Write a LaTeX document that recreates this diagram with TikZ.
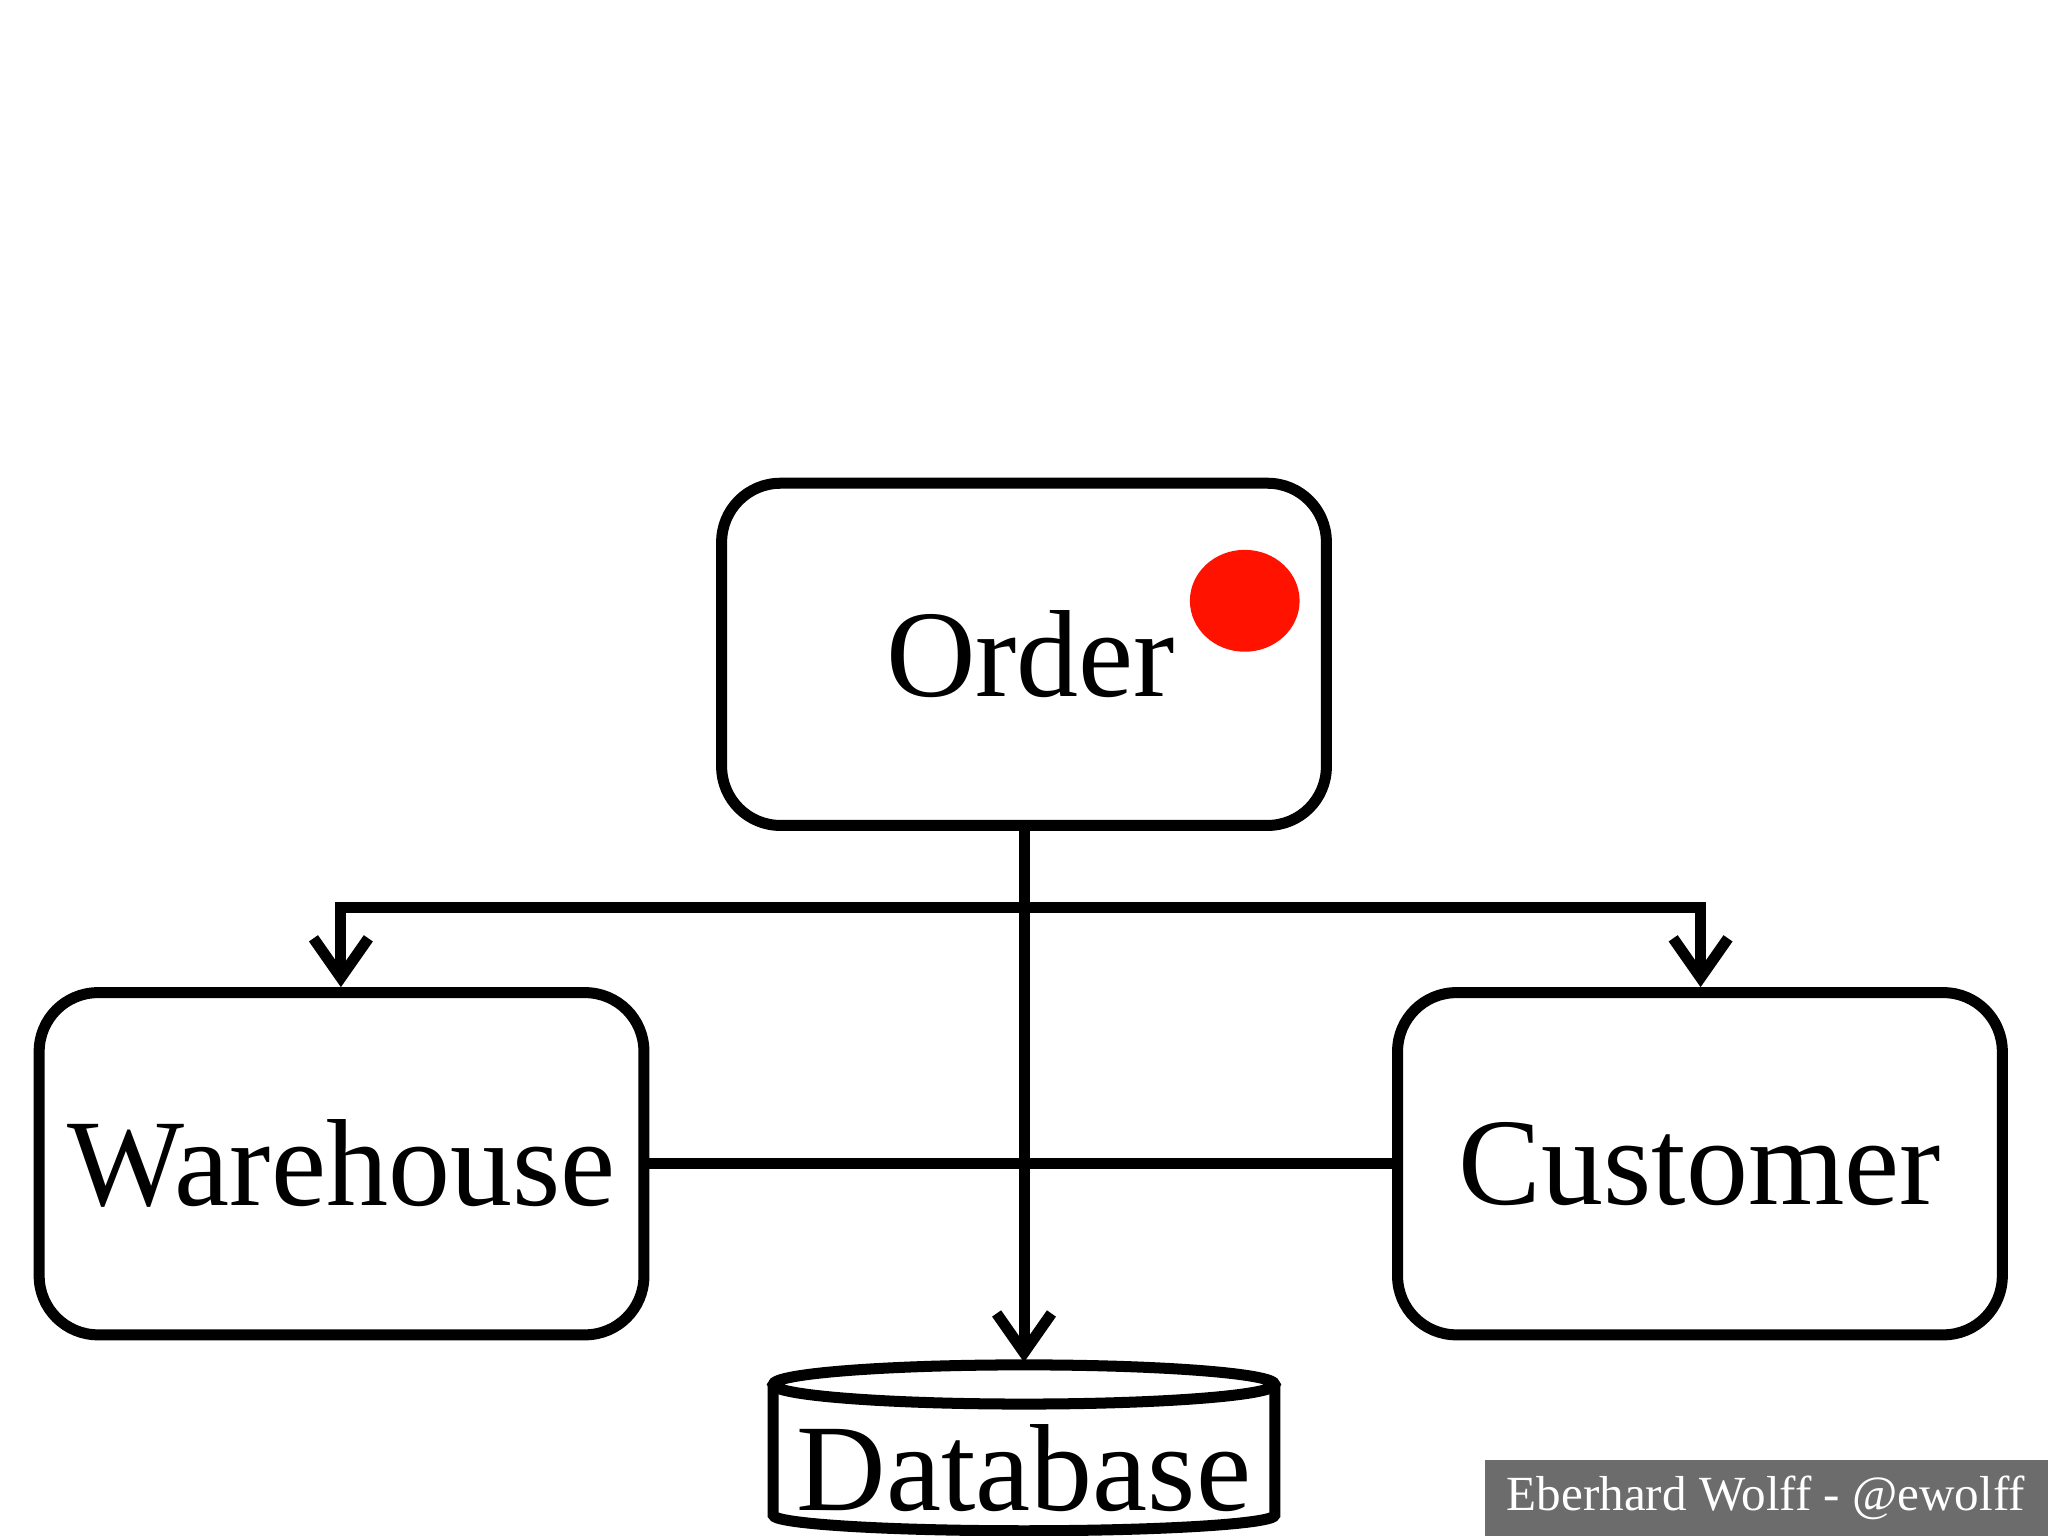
\documentclass[tikz,border=0pt]{standalone}
\usepackage{fontspec}
\setmainfont{Liberation Serif}
\usetikzlibrary{arrows.meta}
\begin{document}
\begin{tikzpicture}[
  box/.style={draw,line width=2.4pt,rounded corners=0.45cm,minimum width=4.63cm,minimum height=2.62cm,inner sep=0pt,font=\fontsize{27}{32}\selectfont},
  conn/.style={line width=2.4pt},
  arr/.style={conn,-{Straight Barb[length=0.3cm,width=0.42cm]}}
]
\useasboundingbox (0,0) rectangle (15.68,11.76);
\fill[white] (0,0) rectangle (15.68,11.76);
\node[box] (order) at (7.84,6.75) {\hspace*{0.1cm}Order};
\fill[red!85!orange] (9.53,7.16) ellipse (0.42cm and 0.39cm);
\node[box] (wh) at (2.615,2.85) {Warehouse};
\node[box] (cu) at (13.015,2.85) {Customer};
% database cylinder
\draw[line width=2.4pt,fill=white] (5.92,1.16) -- (5.92,0.16) arc[start angle=180,end angle=360,x radius=1.92cm,y radius=0.12cm] -- (9.76,1.16);
\draw[line width=2.4pt] (7.84,1.16) ellipse (1.92cm and 0.15cm);
\coordinate (dbtop) at (7.84,1.33);
\node[font=\fontsize{27}{32}\selectfont,inner sep=0pt] (db) at (7.84,0.52) {Database};
% connectors
\coordinate (sl) at (2.61,4.81);
\coordinate (sr) at (13.02,4.81);
\draw[arr] (sl) -- (sr) -- (cu.north -| sr);
\draw[arr] (sr) -- (sl) -- (wh.north -| sl);
\draw[arr] (order.south) -- (dbtop);
\draw[conn] (wh.east) -- (cu.west);
% label
\fill[gray!85!black] (11.37,0) rectangle (15.68,0.58);
\node[text=white,font=\fontsize{10.7}{13}\selectfont,inner sep=0pt] (lbl) at (13.52,0.29) {Eberhard Wolff - @ewolff};
\end{tikzpicture}
\end{document}
